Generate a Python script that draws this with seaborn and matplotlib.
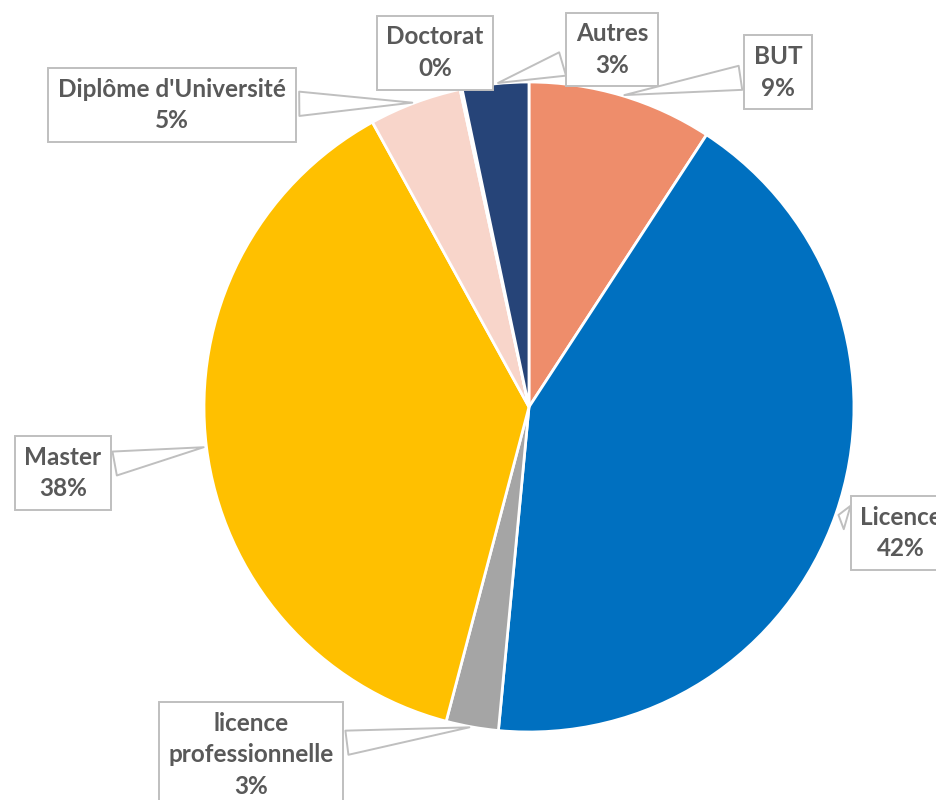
import matplotlib
matplotlib.use("Agg")
import matplotlib.pyplot as plt
import seaborn as sns
import numpy as np

categories = ["BUT", "Licence", "licence\nprofessionnelle", "Master",
              "Diplôme d'Université", "Doctorat", "Autres"]
values = [9.2, 42.3, 2.6, 37.9, 4.6, 0.1, 3.3]
colors = ["#EE8D6B", "#0070C0", "#A5A5A5", "#FFC000", "#F8D5CA", "#F2F2F2", "#264478"]

# label box centres (data units of the pie axes, radius = 1)
label_pos = [(0.766, 1.03), (1.145, -0.388), (-0.855, -1.07), (-1.434, -0.203),
             (-1.098, 0.929), (-0.289, 1.09), (0.255, 1.10)]

sns.set_theme(style="white")
plt.rcParams['font.family'] = ['Lato', 'DejaVu Sans']

fig = plt.figure(figsize=(9.37, 8), dpi=100)
ax = fig.add_axes([0.2177, 0.085, 0.6937, 0.8125])
sns.despine(ax=ax, left=True, bottom=True)

wedges, _ = ax.pie(values, colors=colors, startangle=90, counterclock=False, radius=1,
                   wedgeprops=dict(edgecolor="white", linewidth=2))
ax.set_xlim(-1, 1)
ax.set_ylim(-1, 1)
ax.set_aspect("equal")

total = sum(values)
cum = 0.0
for name, v, pos in zip(categories, values, label_pos):
    mid = cum + v / 2
    cum += v
    ang = np.deg2rad(90 - 360 * mid / total)
    xy = (np.cos(ang), np.sin(ang))
    pct = int(100 * v / total + 0.5)
    ax.annotate(f"{name}\n{pct}%", xy=xy, xytext=pos, ha="center", va="center",
                fontsize=17.5, fontweight="bold", color="#595959", linespacing=1.45,
                bbox=dict(boxstyle="square,pad=0.4", fc="white", ec="#BFBFBF", lw=1.4),
                arrowprops=dict(arrowstyle="wedge,tail_width=1.0,shrink_factor=0.5",
                                fc="white", ec="#BFBFBF", lw=1.4),
                annotation_clip=False)

fig.savefig("out.png", dpi=100, facecolor="white")
